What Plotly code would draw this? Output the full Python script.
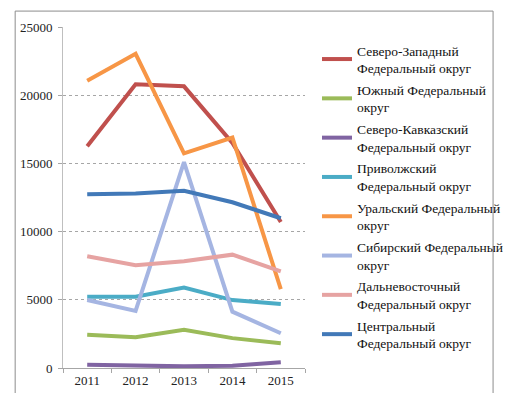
import plotly.graph_objects as go

years = ["2011", "2012", "2013", "2014", "2015"]

names = [
    "Северо-Западный<br>Федеральный округ",
    "Южный Федеральный<br>округ",
    "Северо-Кавказский<br>Федеральный округ",
    "Приволжский<br>Федеральный округ",
    "Уральский Федеральный<br>округ",
    "Сибирский Федеральный<br>округ",
    "Дальневосточный<br>Федеральный округ",
    "Центральный<br>Федеральный округ",
]

severo_zapadny = [16250, 20800, 20650, 16500, 10700]
yuzhny = [2430, 2260, 2800, 2190, 1820]
severo_kavkazsky = [240, 200, 120, 170, 420]
privolzhsky = [5220, 5220, 5900, 4980, 4690]
uralsky = [21060, 23030, 15740, 16900, 5780]
sibirsky = [4980, 4180, 15090, 4130, 2550]
dalnevostochny = [8190, 7530, 7820, 8310, 7090]
centralny = [12730, 12800, 13000, 12150, 10980]

series = [severo_zapadny, yuzhny, severo_kavkazsky, privolzhsky,
          uralsky, sibirsky, dalnevostochny, centralny]
colors = ["#C0504D", "#9BBB59", "#8064A2", "#4BACC6",
          "#F79646", "#A5B5E2", "#E6A3A2", "#4279B8"]

SERIF = "Liberation Serif, DejaVu Serif, serif"

fig = go.Figure()
for i, (n, s, c) in enumerate(zip(names, series, colors)):
    fig.add_trace(go.Scatter(x=years, y=s, name=n, mode="lines",
                             legendgroup="g%d" % i,
                             line=dict(color=c, width=4)))

W, H = 511, 393
L, R, T, B = 52, 201, 17, 33
pw, ph = W - L - R, H - T - B

fig.update_layout(
    width=W, height=H,
    margin=dict(l=L, r=R, t=T, b=B),
    paper_bgcolor="white", plot_bgcolor="white",
    font=dict(family=SERIF, size=13, color="#222"),
    showlegend=True,
    legend=dict(
        x=309 / W, y=1 - 27 / H, xref="container", yref="container",
        xanchor="left", yanchor="top",
        font=dict(family=SERIF, size=13.5, color="#111"),
        tracegroupgap=1.2, itemwidth=30, maxheight=390,
        bgcolor="rgba(0,0,0,0)",
    ),
    xaxis=dict(
        type="category", showgrid=False, showline=True, linecolor="#A6A6A6",
        ticks="outside", tickson="boundaries", ticklen=4, tickcolor="#A6A6A6",
        range=[-0.5, 4.5], tickfont=dict(family=SERIF, size=13),
    ),
    yaxis=dict(
        range=[0, 25000], dtick=5000, tickformat="d",
        showgrid=True, gridcolor="#A6A6A6",
        griddash="dot", gridwidth=1, showline=True, linecolor="#BFBFBF",
        ticks="outside", ticklen=4, tickcolor="#A6A6A6", zeroline=False,
        ticklabelstandoff=3,
        tickfont=dict(family=SERIF, size=13),
    ),
    shapes=[dict(
        type="rect", xref="paper", yref="paper",
        x0=-(L - 1) / pw, x1=(W - L - 0.5) / pw,
        y0=-(B - 0.5) / ph, y1=1 + (T - 1) / ph,
        line=dict(color="#8C8C8C", width=1), layer="below",
    )],
)

fig.write_html("out.html")
